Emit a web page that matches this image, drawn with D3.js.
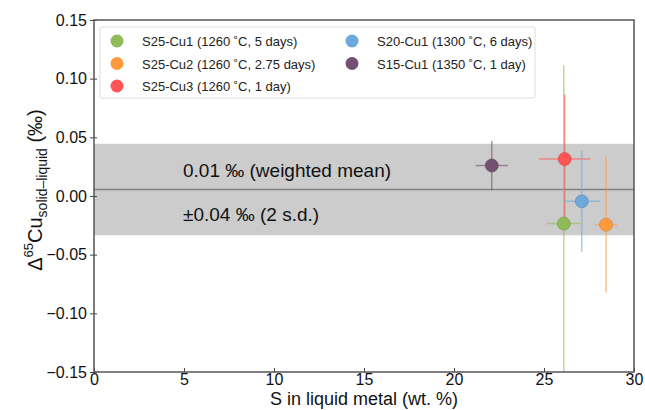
<!DOCTYPE html>
<html>
<head>
<meta charset="utf-8">
<script src="https://cdn.jsdelivr.net/npm/d3@7"></script>
<style>
  body { margin: 0; background: #fff; }
  text { font-family: "Liberation Sans", Arial, sans-serif; }
</style>
</head>
<body>
<div id="chart"></div>
<script>
/* sample names and run conditions, in legend order */
const sampleNames = ["S25-Cu1", "S25-Cu2", "S25-Cu3", "S20-Cu1", "S15-Cu1"];
const sampleLabels = ["S25-Cu1 (1260 ˚C, 5 days)", "S25-Cu2 (1260 ˚C, 2.75 days)",
  "S25-Cu3 (1260 ˚C, 1 day)", "S20-Cu1 (1300 ˚C, 6 days)", "S15-Cu1 (1350 ˚C, 1 day)"];
const sampleColors = ["#8fbc58", "#ff9a3c", "#ff5555", "#6fa8dc", "#73506f"];

/* S content (wt. %) and its error */
const sulfur = [26.1, 28.45, 26.15, 27.1, 22.1];
const sulfurErr = [0.93, 0.6, 1.42, 1.0, 0.9];

/* Δ65Cu solid-liquid (‰) and its error */
const deltaCu = [-0.0235, -0.0245, 0.0315, -0.0045, 0.026];
const deltaCuErr = [0.135, 0.058, 0.055, 0.043, 0.021];

/* weighted mean and 2 s.d. */
const weightedMean = 0.0055;
const twoSD = 0.039;

const xTicks = [0, 5, 10, 15, 20, 25, 30];
const yTicks = [-0.15, -0.10, -0.05, 0.00, 0.05, 0.10, 0.15];

const width = 645, height = 410;
const margin = {top: 20, right: 11, bottom: 38, left: 94};

const svg = d3.select("#chart").append("svg")
  .attr("width", width)
  .attr("height", height);

const x = d3.scaleLinear().domain([0, 30]).range([margin.left, width - margin.right]);
const y = d3.scaleLinear().domain([-0.15, 0.15]).range([height - margin.bottom, margin.top]);

svg.append("defs").append("clipPath").attr("id", "plot")
  .append("rect")
    .attr("x", margin.left).attr("y", margin.top)
    .attr("width", x(30) - x(0)).attr("height", y(-0.15) - y(0.15));

const plot = svg.append("g").attr("clip-path", "url(#plot)");

/* 2 s.d. band and mean line */
plot.append("rect")
  .attr("x", x(0)).attr("width", x(30) - x(0))
  .attr("y", y(weightedMean + twoSD))
  .attr("height", y(weightedMean - twoSD) - y(weightedMean + twoSD))
  .attr("fill", "#cccccc");
plot.append("line")
  .attr("x1", x(0)).attr("x2", x(30))
  .attr("y1", y(weightedMean)).attr("y2", y(weightedMean))
  .attr("stroke", "#808080").attr("stroke-width", 1.5);

svg.append("text").attr("x", 183).attr("y", 177)
  .attr("font-size", 19).attr("fill", "#111").text("0.01 ‰ (weighted mean)");
svg.append("text").attr("x", 183).attr("y", 221)
  .attr("font-size", 19).attr("fill", "#111").text("±0.04 ‰ (2 s.d.)");

/* error bars */
const order = [4, 0, 2, 3, 1];
order.forEach(i => {
  const g = plot.append("g").attr("stroke", sampleColors[i]).attr("stroke-opacity", 0.6).attr("stroke-width", 1.5);
  g.append("line")
    .attr("x1", x(sulfur[i])).attr("x2", x(sulfur[i]))
    .attr("y1", y(deltaCu[i] - deltaCuErr[i])).attr("y2", y(deltaCu[i] + deltaCuErr[i]));
  g.append("line")
    .attr("x1", x(sulfur[i] - sulfurErr[i])).attr("x2", x(sulfur[i] + sulfurErr[i]))
    .attr("y1", y(deltaCu[i])).attr("y2", y(deltaCu[i]));
});
order.forEach(i => {
  plot.append("circle")
    .attr("cx", x(sulfur[i])).attr("cy", y(deltaCu[i])).attr("r", 6.5)
    .attr("fill", sampleColors[i])
    .attr("stroke", d3.color(sampleColors[i]).darker(0.6)).attr("stroke-width", 0.6);
});

/* axes */
const xAxis = svg.append("g")
  .attr("transform", "translate(0," + y(-0.15) + ")")
  .call(d3.axisBottom(x).tickValues(xTicks).tickFormat(d3.format("d")).tickSize(-4).tickPadding(2));
const yAxis = svg.append("g")
  .attr("transform", "translate(" + x(0) + ",0)")
  .call(d3.axisLeft(y).tickValues(yTicks).tickFormat(d => d3.format(".2f")(d).replace("-", "\u2212")).tickSize(4).tickPadding(3));

[xAxis, yAxis].forEach(a => {
  a.select(".domain").remove();
  a.selectAll("line").attr("stroke", "#444");
  a.selectAll("text").attr("font-size", 16).attr("fill", "#111")
    .attr("font-family", "Liberation Sans, Arial, sans-serif");
});
yAxis.selectAll("line").attr("x1", 3);

/* frame */
svg.append("rect")
  .attr("x", x(0)).attr("y", y(0.15))
  .attr("width", x(30) - x(0)).attr("height", y(-0.15) - y(0.15))
  .attr("fill", "none").attr("stroke", "#555").attr("stroke-width", 1.5);

/* axis titles */
svg.append("text")
  .attr("x", (x(0) + x(30)) / 2).attr("y", 405)
  .attr("text-anchor", "middle").attr("font-size", 18).attr("fill", "#111")
  .text("S in liquid metal (wt. %)");

const yTitle = svg.append("text")
  .attr("transform", "translate(42," + (y(0) - 6) + ") rotate(-90)")
  .attr("text-anchor", "middle").attr("font-size", 20).attr("fill", "#111");
yTitle.append("tspan").text("Δ");
yTitle.append("tspan").attr("font-size", 13).attr("dy", -9).text("65");
yTitle.append("tspan").attr("dy", 9).text("Cu");
yTitle.append("tspan").attr("font-size", 14).attr("dy", 5).text("solid\u2013liquid");
yTitle.append("tspan").attr("dy", -5).text(" (‰)");

/* legend */
const legend = svg.append("g");
legend.append("rect")
  .attr("x", 100).attr("y", 27).attr("width", 435).attr("height", 71).attr("rx", 2)
  .attr("fill", "#fff").attr("stroke", "#dddddd");
const legendPos = [[0, 0], [0, 1], [0, 2], [1, 0], [1, 1]];
const colX = [117, 352];
sampleNames.forEach((name, i) => {
  const [c, r] = legendPos[i];
  const yy = 41 + r * 22.5;
  legend.append("circle")
    .attr("cx", colX[c]).attr("cy", yy).attr("r", 6.5)
    .attr("fill", sampleColors[i]);
  legend.append("text")
    .attr("x", colX[c] + 25).attr("y", yy + 5)
    .attr("font-size", 13).attr("fill", "#222")
    .text(sampleLabels[i]);
});
</script>
</body>
</html>
